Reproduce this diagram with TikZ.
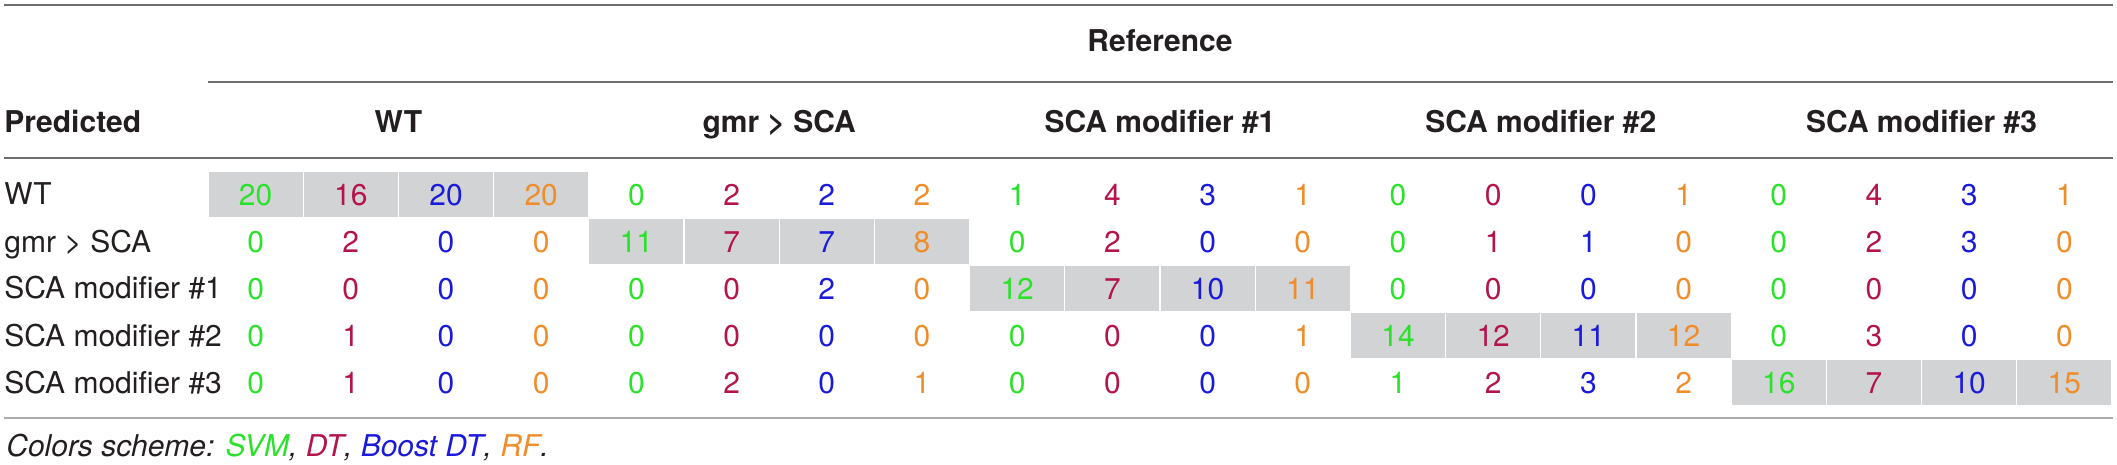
\documentclass[tikz,border=0pt]{standalone}
\usepackage{fontspec}
\setmainfont{TeX Gyre Heros}
\definecolor{model1}{HTML}{2BE22B}
\definecolor{model2}{HTML}{B4134C}
\definecolor{model3}{HTML}{1A1ADB}
\definecolor{model4}{HTML}{EF8D2A}
\definecolor{cellgray}{HTML}{D2D3D5}
\definecolor{rulegray}{HTML}{6E6E6E}
\definecolor{lightrule}{HTML}{ABABAB}
\definecolor{ink}{HTML}{231F20}
\newcommand{\tabfont}{\fontsize{15}{18}\selectfont}
\tikzset{%
    cell/.style={minimum width=47.6pt, minimum height=23.5pt, inner sep=0pt,
        text height=10.7pt, text depth=0pt, font=\tabfont},
    hit/.style={cell, fill=cellgray, draw=white, line width=0.6pt},
    head/.style={inner sep=0pt, font=\tabfont\bfseries, text=ink},
    rowlabel/.style={inner sep=0pt, anchor=base west, font=\tabfont, text=ink},
    rule/.style={color=rulegray, line width=0.7pt}
}

\begin{document}
\begin{tikzpicture}[x=0.5pt, y=-0.5pt]
        \useasboundingbox (0,0) rectangle (2117,465);

        \draw[rule] (4,5) -- (2113,5);
        \draw[rule] (208,82) -- (2113,82);
        \draw[rule] (4,158) -- (2113,158);
        \draw[rule, color=lightrule, line width=1pt] (4,418) -- (2113,418);

        \node[head, anchor=base] (ref) at (1160,52) {Reference};
        \node[head, anchor=base west] (pred) at (4,133) {Predicted};
        \node[head, anchor=base] (grp1) at (398.4,133) {WT};
        \node[head, anchor=base] (grp2) at (779.2,133) {gmr > SCA};
        \node[head, anchor=base] (grp3) at (1160,133) {SCA modifier \#1};
        \node[head, anchor=base] (grp4) at (1540.8,133) {SCA modifier \#2};
        \node[head, anchor=base] (grp5) at (1921.6,133) {SCA modifier \#3};

        \node[rowlabel] (lab0) at (4,205) {WT};
        \node[rowlabel] (lab1) at (4,252) {gmr > SCA};
        \node[rowlabel] (lab2) at (4,299) {SCA modifier \#1};
        \node[rowlabel] (lab3) at (4,346) {SCA modifier \#2};
        \node[rowlabel] (lab4) at (4,393) {SCA modifier \#3};

        % confusion counts, four classifiers per reference class
        \foreach \vals [count=\r from 0] in {
            {20,16,20,20,0,2,2,2,1,4,3,1,0,0,0,1,0,4,3,1},
            {0,2,0,0,11,7,7,8,0,2,0,0,0,1,1,0,0,2,3,0},
            {0,0,0,0,0,0,2,0,12,7,10,11,0,0,0,0,0,0,0,0},
            {0,1,0,0,0,0,0,0,0,0,0,1,14,12,11,12,0,3,0,0},
            {0,1,0,0,0,2,0,1,0,0,0,0,1,2,3,2,16,7,10,15}} {
            \foreach \v [count=\k from 0] in \vals {
                \pgfmathtruncatemacro{\m}{mod(\k,4)+1}
                \pgfmathtruncatemacro{\g}{int(\k/4)}
                \ifnum\g=\r\def\sty{hit}\else\def\sty{cell}\fi
                \node[\sty, text=model\m] (c\r-\k) at (255.6+95.2*\k,194.5+47*\r) {\v};
            }
        }

        \node[rowlabel, font=\tabfont\itshape] (scheme) at (6,456)
            {Colors scheme: \textcolor{model1}{SVM}, \textcolor{model2}{DT},
            \textcolor{model3}{Boost DT}, \textcolor{model4}{RF}.};
    \end{tikzpicture}
\end{document}
